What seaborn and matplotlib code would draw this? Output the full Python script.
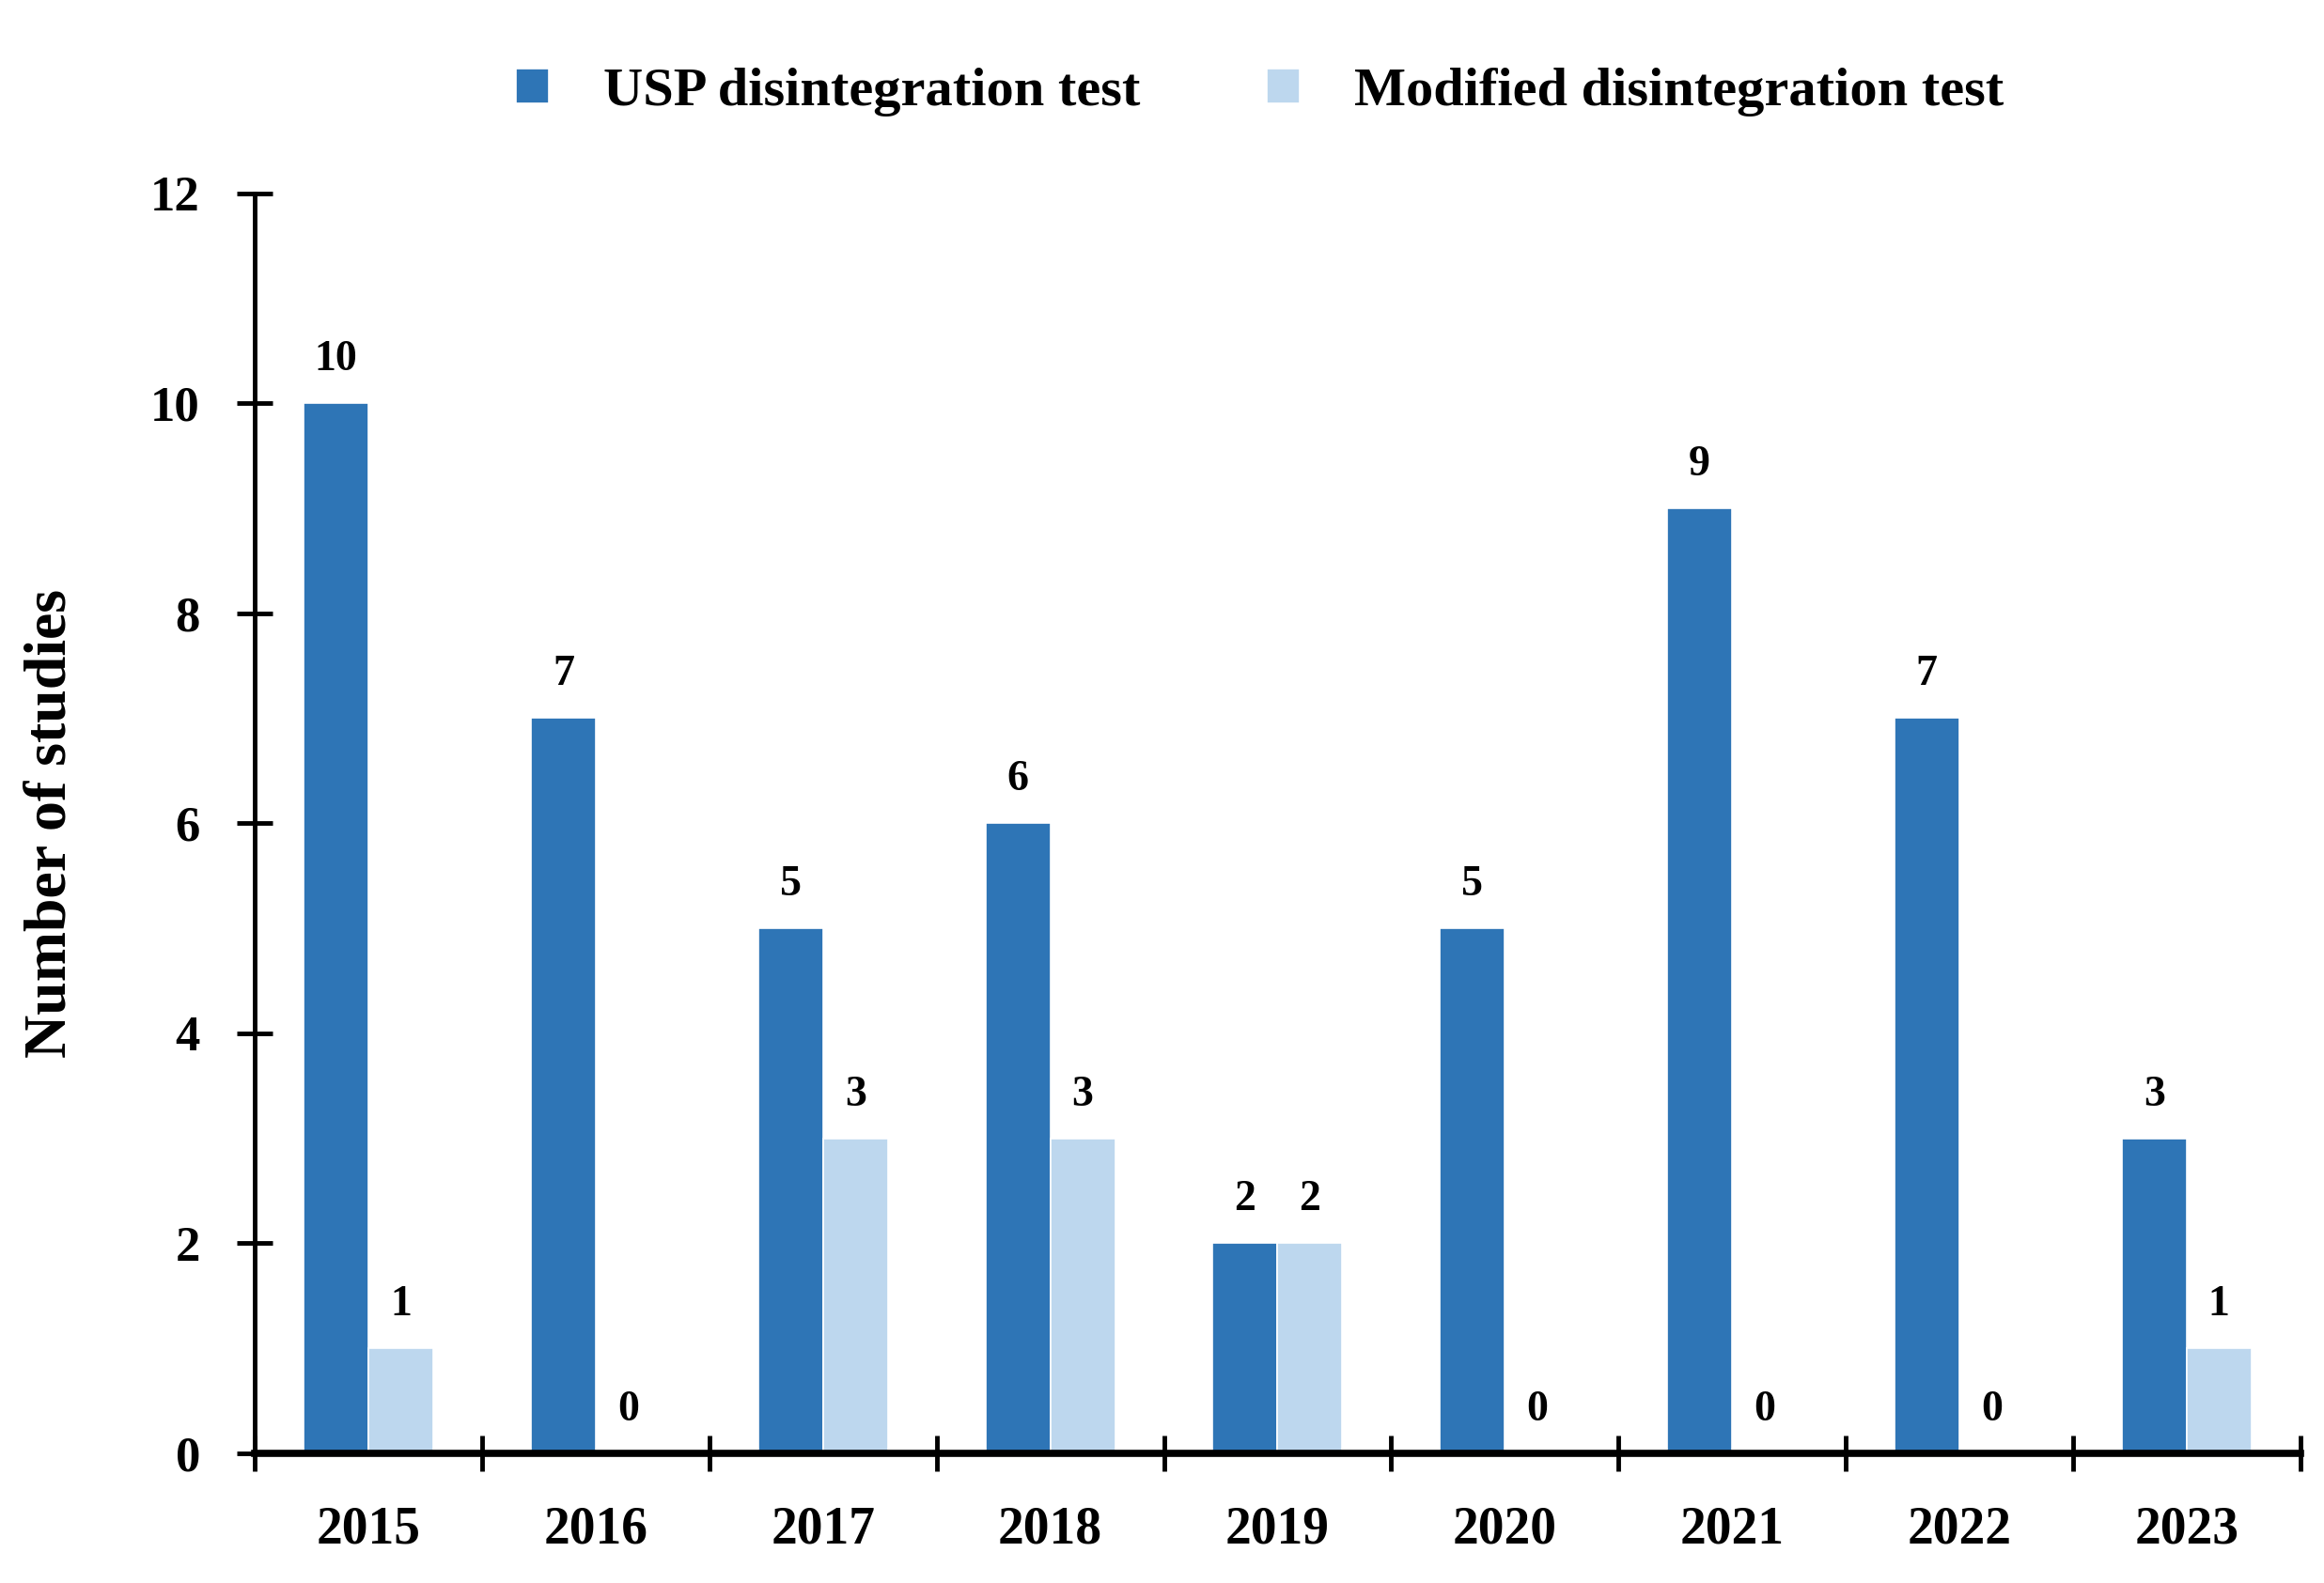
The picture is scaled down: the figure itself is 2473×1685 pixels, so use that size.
import numpy as np
import pandas as pd
import seaborn as sns
import matplotlib.pyplot as plt

# chart values
years = ['2015', '2016', '2017', '2018', '2019', '2020', '2021', '2022', '2023']
usp_counts = [10, 7, 5, 6, 2, 5, 9, 7, 3]
modified_counts = [1, 0, 3, 3, 2, 0, 0, 0, 1]
series_names = ['USP disintegration test', 'Modified disintegration test']
y_ticks = [0, 2, 4, 6, 8, 10, 12]

# long format table for seaborn
df = pd.DataFrame({
    'year': years * 2,
    'count': usp_counts + modified_counts,
    'test': [series_names[0]] * len(years) + [series_names[1]] * len(years),
})

sns.set_theme(style='white')
plt.rcParams['font.family'] = ['Liberation Serif', 'DejaVu Serif']
plt.rcParams['font.weight'] = 'bold'
plt.rcParams['text.color'] = 'black'
plt.rcParams['axes.labelcolor'] = 'black'
plt.rcParams['xtick.color'] = 'black'
plt.rcParams['ytick.color'] = 'black'

fig = plt.figure(figsize=(24.73, 16.85), dpi=100)
ax = fig.add_axes([0.1097, 0.082, 0.88, 0.796])

sns.barplot(data=df, x='year', y='count', hue='test', order=years,
            hue_order=series_names, palette=['#2E75B6', '#BDD7EE'],
            width=0.57, saturation=1, edgecolor='white', linewidth=1.2, ax=ax)

for cont in ax.containers:
    ax.bar_label(cont, labels=[f'{int(v)}' for v in cont.datavalues],
                 padding=18, fontsize=33, fontweight='bold', color='black')

ax.set_xlim(-0.5, len(years) - 0.5)
ax.set_ylim(0, 12)
ax.set_yticks(y_ticks)
ax.set_xlabel('')
ax.set_ylabel('Number of studies', fontsize=46, fontweight='bold', labelpad=55)

# spines
sns.despine(ax=ax)
ax.spines['left'].set_linewidth(3.5)
ax.spines['bottom'].set_linewidth(5.5)
ax.spines['left'].set_color('black')
ax.spines['bottom'].set_color('black')

# tick marks at category boundaries
ax.set_xticks(np.arange(-0.5, len(years), 1), minor=True)
ax.tick_params(axis='x', which='major', length=0, pad=40, labelsize=40)
ax.tick_params(axis='x', which='minor', direction='inout', length=27,
               width=3.5, color='black', bottom=True)
ax.tick_params(axis='y', which='major', direction='inout', length=28,
               width=3.5, color='black', left=True, pad=28, labelsize=38)
for lab in ax.get_xticklabels() + ax.get_yticklabels():
    lab.set_fontweight('bold')

# legend at top
handles, labels = ax.get_legend_handles_labels()
ax.legend_.remove()
fig.legend(handles, labels, loc='center', bbox_to_anchor=(0.542, 0.942),
           ncol=2, frameon=False, fontsize=42, handlelength=0.6,
           handleheight=0.6, handletextpad=1.0, columnspacing=2.3)

fig.savefig('out.png', dpi=100)
